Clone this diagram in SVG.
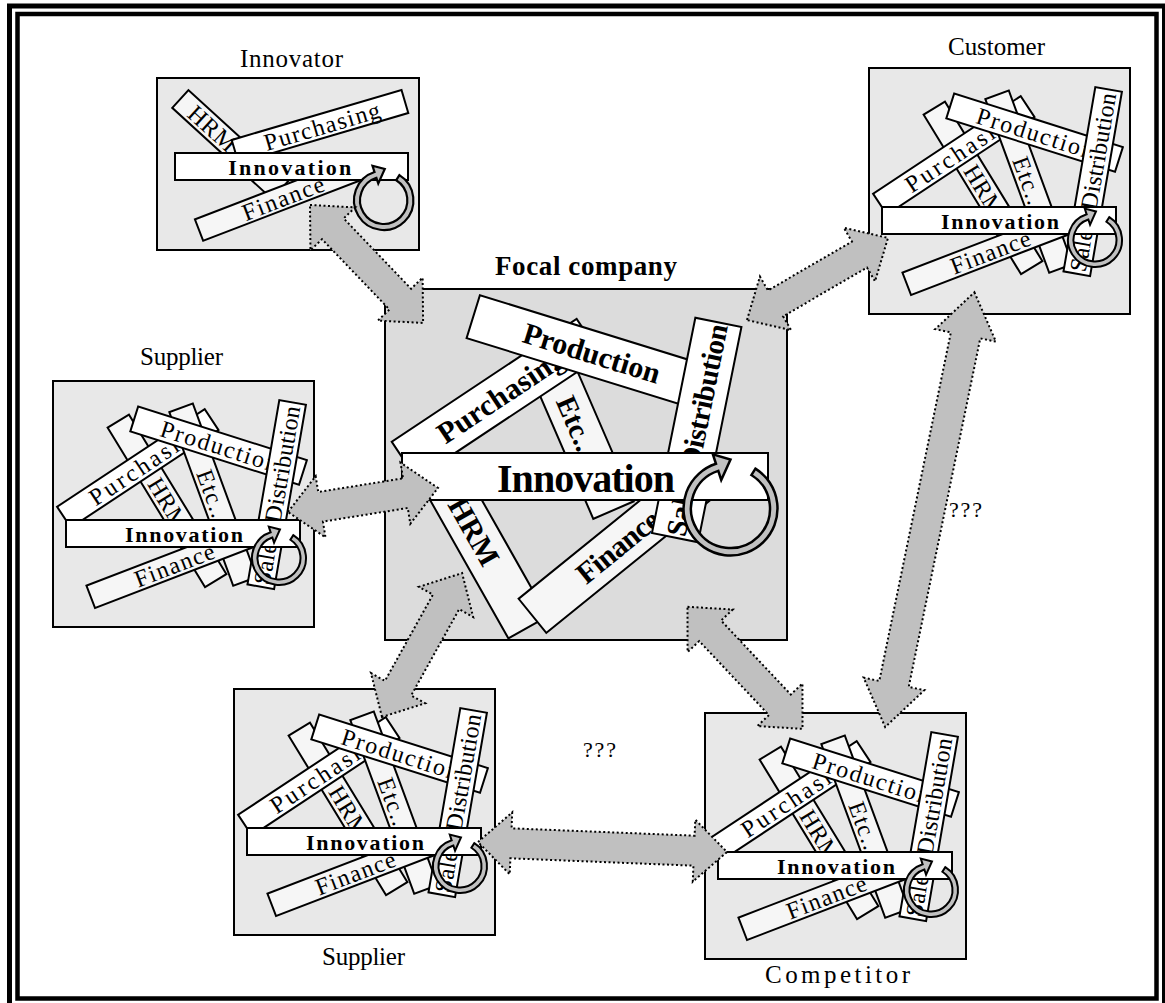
<svg xmlns="http://www.w3.org/2000/svg" xmlns:xlink="http://www.w3.org/1999/xlink" width="1165" height="1003" viewBox="0 0 1165 1003">
<style>
.box{fill:#e8e8e8;stroke:#000;stroke-width:2}
.fbox{fill:#dcdcdc;stroke:#000;stroke-width:2}
.s{fill:#fff;stroke:#000;stroke-width:2}
.s2{fill:#f6f6f6;stroke:#000;stroke-width:2}
.t{font-family:"Liberation Serif","Times New Roman",serif;fill:#000}
.n{font-size:24px}
.l{font-size:25px}
.b{font-weight:bold}
.ring{fill:#c0c0c0;stroke:#000;stroke-width:2}
.arr{fill:#c0c0c0;stroke:#000;stroke-width:2;stroke-dasharray:2 2.5}
.frame{fill:none;stroke:#000}
</style>
<defs>
<path id="ringS" class="ring" d="M14.31,-22.90 A27,27 0 1,1 -8.34,-25.68 L-10.20,-31.39 L0.99,-28.48 L-4.94,-15.22 L-6.64,-20.45 A21.5,21.5 0 1,0 11.39,-18.23 Z"/>
<path id="ringF" class="ring" style="stroke-width:2.5" d="M24.91,-39.86 A47,47 0 1,1 -14.52,-44.70 L-17.61,-54.21 L0,-49 L-9.27,-28.53 L-12.21,-37.57 A39.5,39.5 0 1,0 20.93,-33.5 Z"/>
</defs>
<rect width="1165" height="1003" fill="#fff"/>
<rect class="frame" x="9.5" y="6" width="1155" height="1001" stroke-width="5"/>
<rect class="frame" x="17.5" y="14" width="1139" height="984.5" stroke-width="4.5"/>

<g id="innovator">
<text class="t l" x="240" y="67" textLength="103">Innovator</text>
<rect class="box" x="157" y="78" width="262" height="172"/>
<g transform="translate(230.2,144.5) rotate(42.4)"><rect class="s2" x="-67.5" y="-12" width="135" height="24"/><text class="t n" x="-52" y="8.5" textLength="56">HRM</text></g>
<g transform="translate(281.2,198.5) rotate(-21)"><rect class="s2" x="-88" y="-11.5" width="176" height="23"/><text class="t n" x="2" y="8.5" text-anchor="middle" textLength="86">Finance</text></g>
<g transform="translate(320,126.5) rotate(-16.4)"><rect class="s" x="-88.5" y="-12" width="177" height="24"/><text class="t n" x="2" y="8.5" text-anchor="middle" textLength="120">Purchasing</text></g>
<rect class="s" x="175" y="153" width="233" height="27"/>
<text class="t b" x="228.3" y="175" font-size="22" textLength="123">Innovation</text>
<use xlink:href="#ringS" transform="translate(383.7,200.3) scale(1.1)"/>
</g>

<g id="focal-company">
<text class="t b" x="495" y="275" font-size="27" textLength="182">Focal company</text>
<rect class="fbox" x="385" y="289" width="402" height="351"/>
<g transform="translate(473.8,531.6) rotate(60.5)"><rect class="s2" x="-110" y="-22.5" width="220" height="45"/><text class="t b" x="0" y="10" font-size="30" text-anchor="middle">HRM</text></g>
<g transform="translate(581.7,436.7) rotate(66.6)"><rect class="s2" x="-80" y="-22" width="160" height="44"/><text class="t b" x="-43" y="10" font-size="29" textLength="64">Etc...</text></g>
<g transform="translate(496.5,398.8) rotate(-33.6)"><rect class="s" x="-111" y="-22.25" width="222" height="44.5"/><text class="t b" x="5" y="10" font-size="30" text-anchor="middle" textLength="146">Purchasing</text></g>
<g transform="translate(591.7,353.3) rotate(17.2)"><rect class="s" x="-124" y="-22.5" width="248" height="45"/><text class="t b" x="0" y="10" font-size="30" text-anchor="middle" textLength="142">Production</text></g>
<g transform="translate(616,548.2) rotate(-39)"><rect class="s2" x="-107.5" y="-22" width="215" height="44"/><text class="t b" x="2.5" y="10" font-size="30" text-anchor="middle" textLength="98">Finance</text></g>
<g transform="translate(696.7,430) rotate(-78.6)"><rect class="s" x="-109.75" y="-23.5" width="219.5" height="47"/><text class="t b" x="-108" y="10" font-size="29">Sales</text><text class="t b" x="-38" y="10" font-size="29" textLength="146">Distribution</text></g>
<rect class="s" x="402" y="453" width="366" height="47"/>
<text class="t b" x="497" y="492" font-size="40" textLength="178">Innovation</text>
<use xlink:href="#ringF" transform="translate(730.5,508.5)"/>
</g>

<g id="supplier-left">
<text class="t l" x="140" y="365" textLength="83">Supplier</text>
<g transform="translate(53,381)">
<rect class="box" width="261" height="246"/>
<g transform="translate(114,119.9) rotate(58.6)"><rect class="s2" x="-93.5" y="-12.5" width="187" height="25"/><text class="t n" x="-25" y="8.5" textLength="56">HRM</text></g>
<g transform="translate(84.8,87.4) rotate(-33.5)"><rect class="s" x="-88.5" y="-12.5" width="177" height="25"/><text class="t n" x="-56" y="8.5" textLength="132">Purchasing</text></g>
<g transform="translate(160,113.7) rotate(69.8)"><rect class="s2" x="-92.5" y="-12.5" width="185" height="25"/><text class="t n" x="-26" y="8.5" textLength="56">Etc...</text></g>
<g transform="translate(165.6,64.7) rotate(17.6)"><rect class="s" x="-88.5" y="-13" width="177" height="26"/><text class="t n" x="-60" y="8.5" textLength="122">Production</text></g>
<g transform="translate(223.7,113.6) rotate(-80.2)"><rect class="s" x="-93.5" y="-13.5" width="187" height="27"/><text class="t n" x="-91" y="8.5" textLength="52">Sales</text><text class="t n" x="-28" y="8.5" textLength="118">Distribution</text></g>
<g transform="translate(121.3,183.7) rotate(-21)"><rect class="s2" x="-89.5" y="-12" width="179" height="24"/><text class="t n" x="-42" y="8.5" textLength="84">Finance</text></g>
<rect class="s" x="13" y="139" width="234" height="27"/>
<text class="t b" x="72" y="160.5" font-size="22" textLength="118">Innovation</text>
<use xlink:href="#ringS" transform="translate(226,177)"/>
</g>
</g>

<g id="customer">
<text class="t l" x="948" y="55" textLength="97">Customer</text>
<g transform="translate(869,68)">
<rect class="box" width="261" height="246"/>
<g transform="translate(114,119.9) rotate(58.6)"><rect class="s2" x="-93.5" y="-12.5" width="187" height="25"/><text class="t n" x="-25" y="8.5" textLength="56">HRM</text></g>
<g transform="translate(84.8,87.4) rotate(-33.5)"><rect class="s" x="-88.5" y="-12.5" width="177" height="25"/><text class="t n" x="-56" y="8.5" textLength="132">Purchasing</text></g>
<g transform="translate(160,113.7) rotate(69.8)"><rect class="s2" x="-92.5" y="-12.5" width="185" height="25"/><text class="t n" x="-26" y="8.5" textLength="56">Etc...</text></g>
<g transform="translate(165.6,64.7) rotate(17.6)"><rect class="s" x="-88.5" y="-13" width="177" height="26"/><text class="t n" x="-60" y="8.5" textLength="122">Production</text></g>
<g transform="translate(223.7,113.6) rotate(-80.2)"><rect class="s" x="-93.5" y="-13.5" width="187" height="27"/><text class="t n" x="-91" y="8.5" textLength="52">Sales</text><text class="t n" x="-28" y="8.5" textLength="118">Distribution</text></g>
<g transform="translate(121.3,183.7) rotate(-21)"><rect class="s2" x="-89.5" y="-12" width="179" height="24"/><text class="t n" x="-42" y="8.5" textLength="84">Finance</text></g>
<rect class="s" x="13" y="139" width="234" height="27"/>
<text class="t b" x="72" y="160.5" font-size="22" textLength="118">Innovation</text>
<use xlink:href="#ringS" transform="translate(226,172)"/>
</g>
</g>

<g id="supplier-bottom">
<text class="t l" x="322" y="965" textLength="83">Supplier</text>
<g transform="translate(234,689)">
<rect class="box" width="261" height="246"/>
<g transform="translate(114,119.9) rotate(58.6)"><rect class="s2" x="-93.5" y="-12.5" width="187" height="25"/><text class="t n" x="-25" y="8.5" textLength="56">HRM</text></g>
<g transform="translate(84.8,87.4) rotate(-33.5)"><rect class="s" x="-88.5" y="-12.5" width="177" height="25"/><text class="t n" x="-56" y="8.5" textLength="132">Purchasing</text></g>
<g transform="translate(160,113.7) rotate(69.8)"><rect class="s2" x="-92.5" y="-12.5" width="185" height="25"/><text class="t n" x="-26" y="8.5" textLength="56">Etc...</text></g>
<g transform="translate(165.6,64.7) rotate(17.6)"><rect class="s" x="-88.5" y="-13" width="177" height="26"/><text class="t n" x="-60" y="8.5" textLength="122">Production</text></g>
<g transform="translate(223.7,113.6) rotate(-80.2)"><rect class="s" x="-93.5" y="-13.5" width="187" height="27"/><text class="t n" x="-91" y="8.5" textLength="52">Sales</text><text class="t n" x="-28" y="8.5" textLength="118">Distribution</text></g>
<g transform="translate(121.3,183.7) rotate(-21)"><rect class="s2" x="-89.5" y="-12" width="179" height="24"/><text class="t n" x="-42" y="8.5" textLength="84">Finance</text></g>
<rect class="s" x="13" y="139" width="234" height="27"/>
<text class="t b" x="72" y="160.5" font-size="22" textLength="118">Innovation</text>
<use xlink:href="#ringS" transform="translate(226,177)"/>
</g>
</g>

<g id="competitor">
<text class="t l" x="765" y="983" textLength="145">Competitor</text>
<g transform="translate(705,713)">
<rect class="box" width="261" height="246"/>
<g transform="translate(114,119.9) rotate(58.6)"><rect class="s2" x="-93.5" y="-12.5" width="187" height="25"/><text class="t n" x="-25" y="8.5" textLength="56">HRM</text></g>
<g transform="translate(84.8,87.4) rotate(-33.5)"><rect class="s" x="-88.5" y="-12.5" width="177" height="25"/><text class="t n" x="-56" y="8.5" textLength="132">Purchasing</text></g>
<g transform="translate(160,113.7) rotate(69.8)"><rect class="s2" x="-92.5" y="-12.5" width="185" height="25"/><text class="t n" x="-26" y="8.5" textLength="56">Etc...</text></g>
<g transform="translate(165.6,64.7) rotate(17.6)"><rect class="s" x="-88.5" y="-13" width="177" height="26"/><text class="t n" x="-60" y="8.5" textLength="122">Production</text></g>
<g transform="translate(223.7,113.6) rotate(-80.2)"><rect class="s" x="-93.5" y="-13.5" width="187" height="27"/><text class="t n" x="-91" y="8.5" textLength="52">Sales</text><text class="t n" x="-28" y="8.5" textLength="118">Distribution</text></g>
<g transform="translate(121.3,183.7) rotate(-21)"><rect class="s2" x="-89.5" y="-12" width="179" height="24"/><text class="t n" x="-42" y="8.5" textLength="84">Finance</text></g>
<rect class="s" x="13" y="139" width="234" height="27"/>
<text class="t b" x="72" y="160.5" font-size="22" textLength="118">Innovation</text>
<use xlink:href="#ringS" transform="translate(226,177)"/>
</g>
</g>

<g id="connectors">
<polygon class="arr" transform="translate(310,205) rotate(46.2)" points="0,0 33,-31 33,-15 130.4,-15 130.4,-31 163.4,0 130.4,31 130.4,15 33,15 33,31"/>
<polygon class="arr" transform="translate(747,320) rotate(-30.2)" points="0,0 33,-31 33,-15 130.1,-15 130.1,-31 163.1,0 130.1,31 130.1,15 33,15 33,31"/>
<polygon class="arr" transform="translate(288,512) rotate(-9.1)" points="0,0 33,-31 33,-15 118.9,-15 118.9,-31 151.9,0 118.9,31 118.9,15 33,15 33,31"/>
<polygon class="arr" transform="translate(382,717) rotate(-60.9)" points="0,0 33,-31 33,-15 131.7,-15 131.7,-31 164.7,0 131.7,31 131.7,15 33,15 33,31"/>
<polygon class="arr" transform="translate(687.5,606.8) rotate(46.7)" points="0,0 33,-31 33,-15 134.7,-15 134.7,-31 167.7,0 134.7,31 134.7,15 33,15 33,31"/>
<polygon class="arr" transform="translate(974.4,292.3) rotate(101.6)" points="0,0 44,-31 44,-15 399.8,-15 399.8,-31 443.8,0 399.8,31 399.8,15 44,15 44,31"/>
<polygon class="arr" transform="translate(478,842) rotate(2.3)" points="0,0 33,-31 33,-15 216.2,-15 216.2,-31 249.2,0 216.2,31 216.2,15 33,15 33,31"/>
<text class="t" x="949" y="517" font-size="22" textLength="33">???</text>
<text class="t" x="583" y="757" font-size="22" textLength="33">???</text>
</g>
</svg>
